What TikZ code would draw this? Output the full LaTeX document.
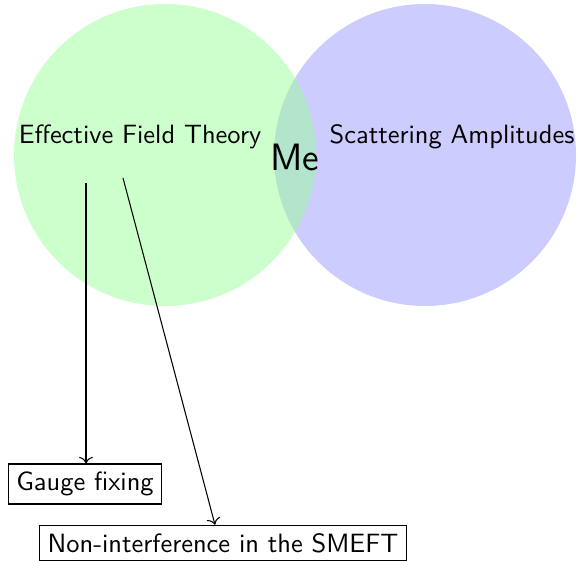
\documentclass[tikz,border=0pt]{standalone}
\usepackage{tikz}
\usetikzlibrary{arrows.meta,positioning}
\renewcommand{\familydefault}{\sfdefault}
\tikzset{
  vennset/.style={fill opacity=0.5},
  topiclabel/.style={inner sep=2pt, text=black},
  topicbox/.style={draw, line width=0.4pt, inner sep=3pt},
  linkarrow/.style={->, line width=0.4pt},
}

\begin{document}
\begin{tikzpicture}[x=0.378pt, y=-0.378pt]
  \useasboundingbox (0,0) rectangle (577,560);
  \fill[vennset, blue!40] (425,155) circle (151);
  \fill[vennset, green!40] (165,155) circle (151);
  \node[topiclabel] (eft) at (140,137) {Effective Field Theory};
  \node[topiclabel] (amp) at (452,137) {Scattering Amplitudes};
  \node[topiclabel, font=\Large] (me) at (295,157) {Me};
  \coordinate (gaugestart) at (86,183);
  \coordinate (nonintstart) at (123,178);
  \node[topicbox] (gauge) at (85,484) {Gauge fixing};
  \node[topicbox] (nonint) at (223,543) {Non-interference in the SMEFT};
  \draw[linkarrow] (gaugestart) -- (gauge.north -| gaugestart);
  \draw[linkarrow] (nonintstart) -- (nonint.north -| 215,0);
\end{tikzpicture}
\end{document}
